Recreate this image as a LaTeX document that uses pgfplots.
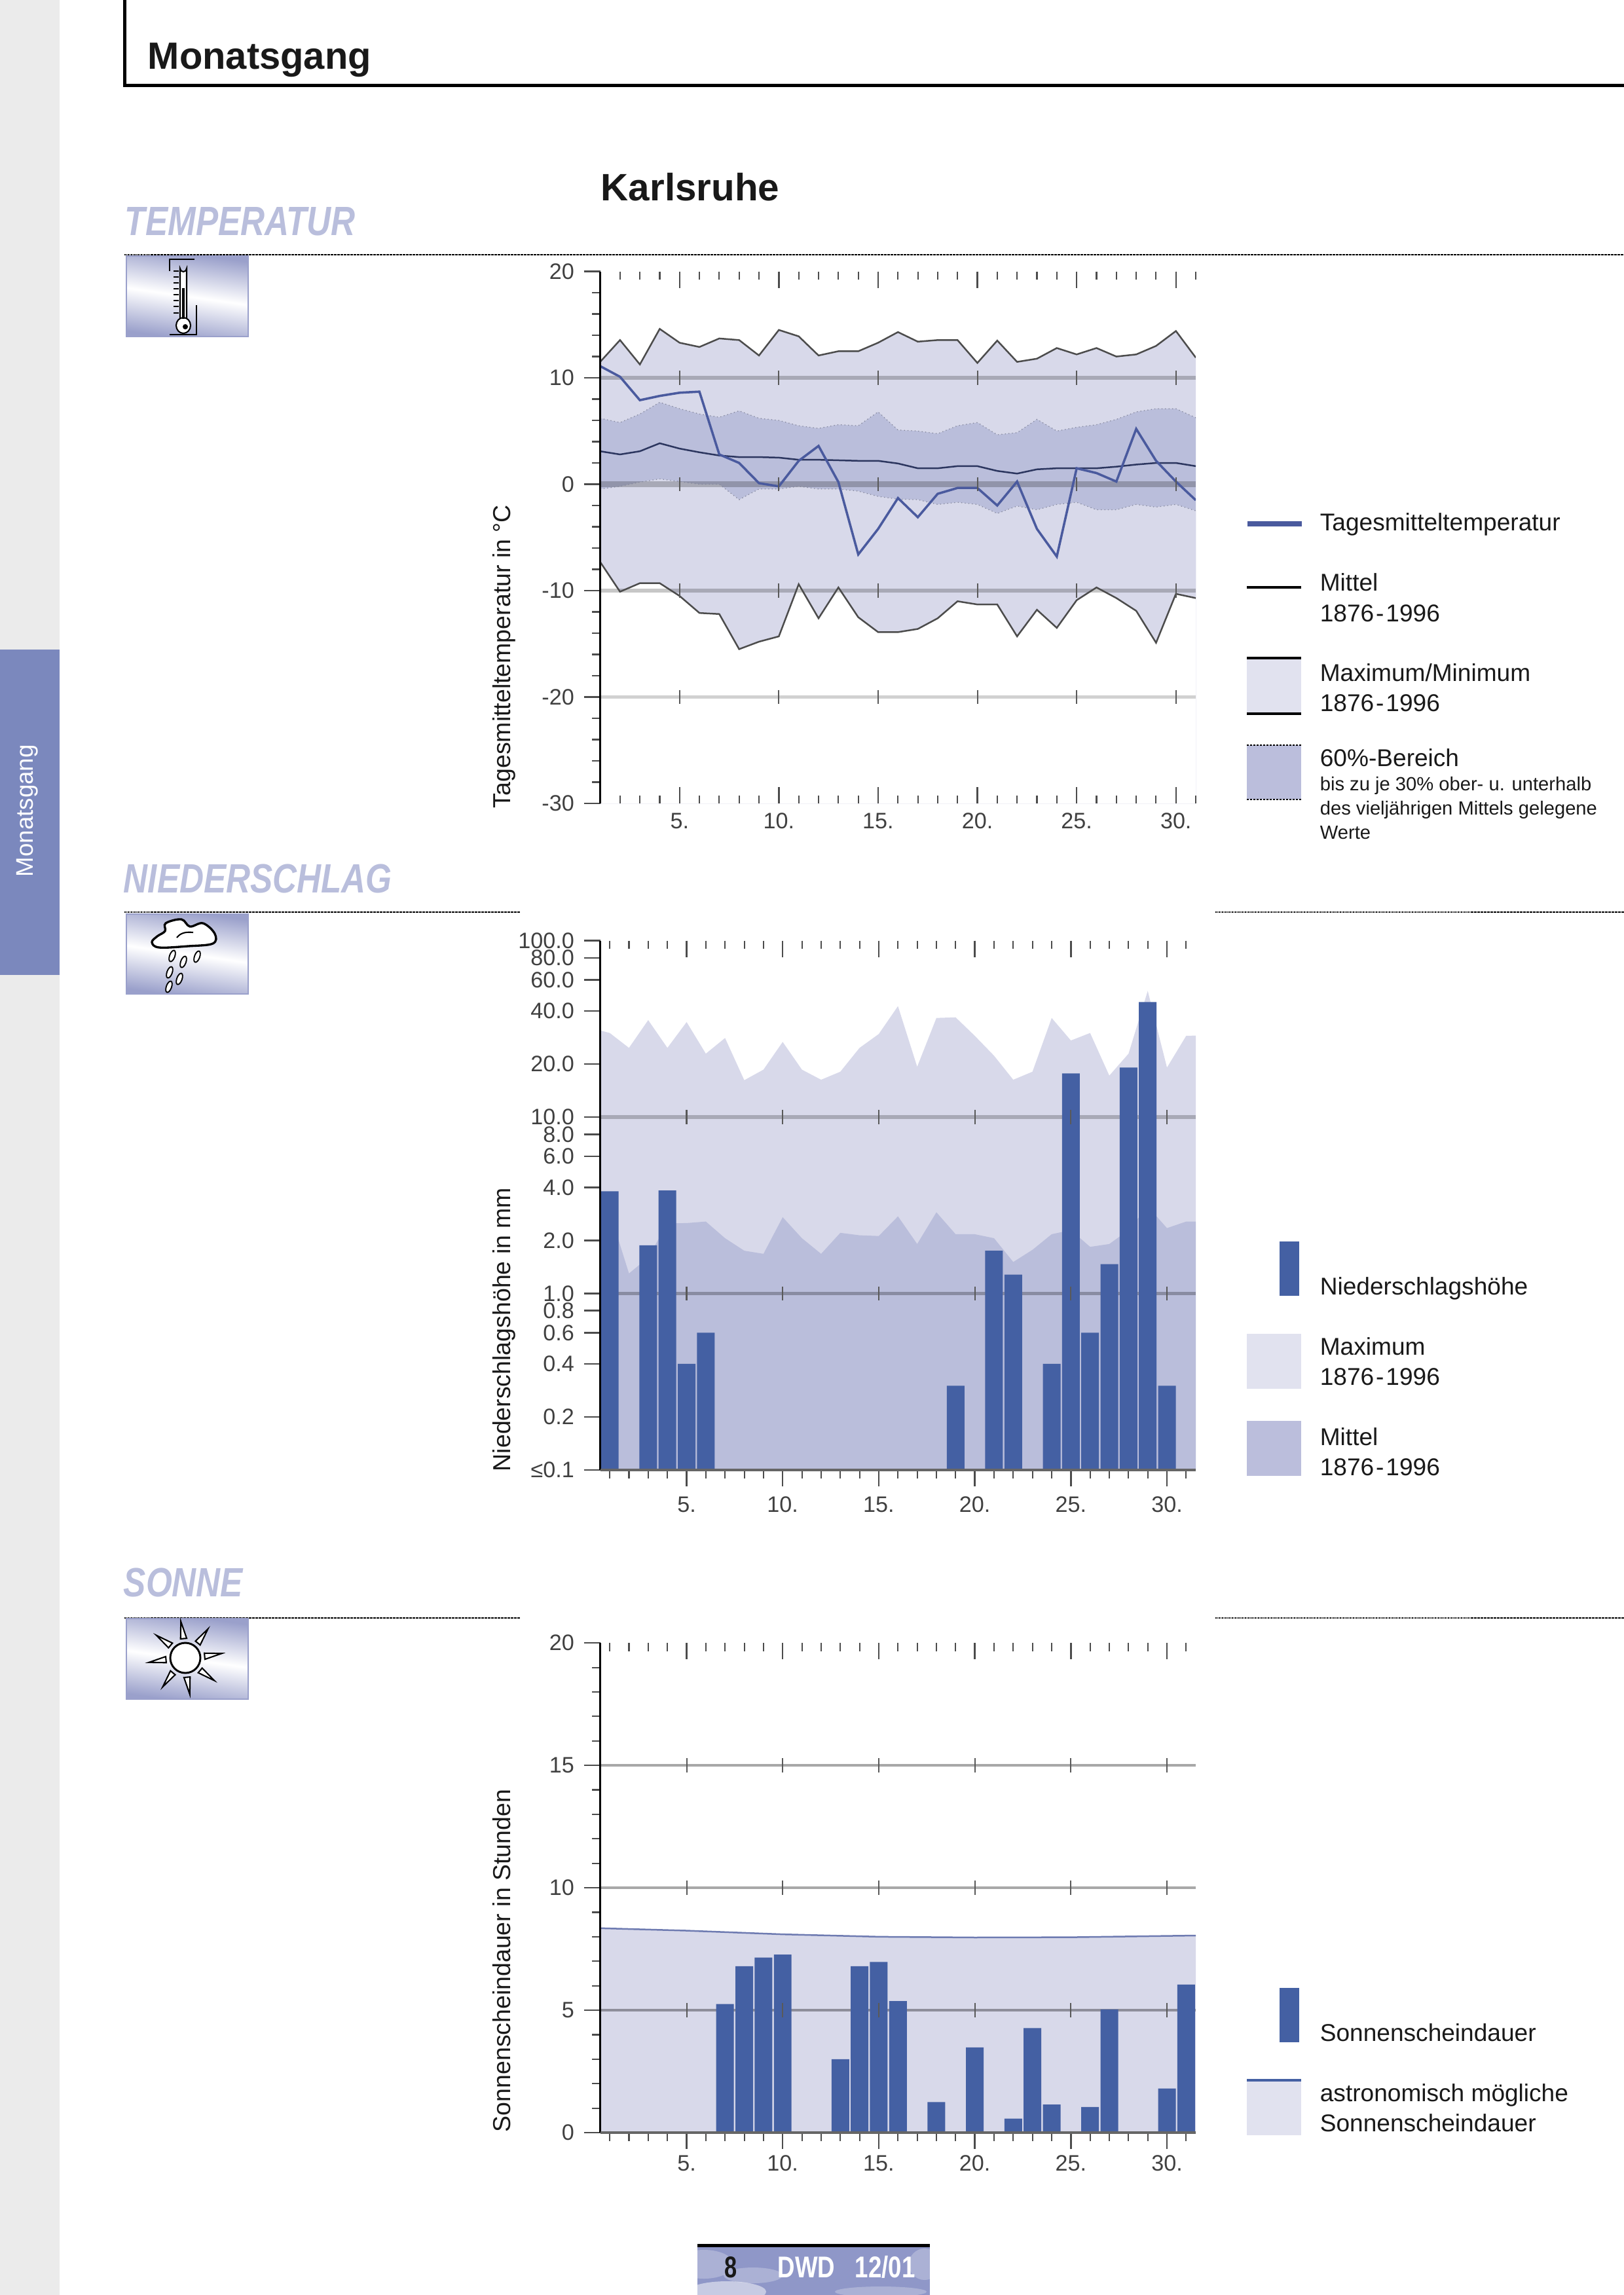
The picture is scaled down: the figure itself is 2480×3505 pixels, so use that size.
\documentclass[border=0pt]{standalone}
\usepackage{fontspec}
\setmainfont{Liberation Sans}
\usepackage{graphicx}
\usepackage{pgfplots}
\usepackage{pgfplotstable}
\pgfplotsset{compat=1.18}

\definecolor{maxfill}{HTML}{D8D9EA}
\definecolor{meanfill}{HTML}{BABEDB}
\definecolor{legmax}{HTML}{E1E2EF}
\definecolor{legmean}{HTML}{BBBEDC}
\definecolor{barblue}{HTML}{4460A3}
\definecolor{linblue}{HTML}{4A5A9E}
\definecolor{sectblue}{HTML}{B9BEDC}
\definecolor{tabblue}{HTML}{7B88BD}
\definecolor{sidegray}{HTML}{EBEBEB}
\definecolor{iconblue}{HTML}{9AA0CB}
\definecolor{footblue}{HTML}{8F97C8}

% day, max, min, mean 1876-1996, 60% upper and lower edge, daily mean 12/2001
\pgfplotstableread{
day max   min   mean o60  u60   tag
1   11.5  -7.3  3.1  6.2  -0.45 11.1
2   13.55 -10.1 2.8  5.8  -0.2  10.1
3   11.26 -9.3  3.1  6.6  0.2   7.9
4   14.6  -9.3  3.85 7.7  0.5   8.3
5   13.3  -10.5 3.35 7.1  0.25  8.6
6   12.9  -12.1 3.0  6.6  0.0   8.7
7   13.7  -12.2 2.7  6.3  0.0   2.8
8   13.55 -15.5 2.55 6.9  -1.45 2.0
9   12.1  -14.8 2.55 6.2  -0.45 0.1
10  14.5  -14.3 2.5  6.0  -0.45 -0.2
11  13.9  -9.4  2.3  5.5  -0.2  2.2
12  12.1  -12.6 2.3  5.25 -0.45 3.6
13  12.5  -9.7  2.25 5.6  -0.45 0.2
14  12.5  -12.5 2.2  5.5  -0.65 -6.6
15  13.3  -13.9 2.2  6.8  -1.15 -4.2
16  14.3  -13.9 1.95 5.1  -1.4  -1.3
17  13.4  -13.6 1.5  5.0  -1.45 -3.1
18  13.55 -12.6 1.5  4.75 -1.9  -0.9
19  13.55 -11.0 1.7  5.5  -1.7  -0.35
20  11.4  -11.3 1.7  5.8  -1.9  -0.35
21  13.5  -11.3 1.25 4.65 -2.75 -2.0
22  11.5  -14.3 1.0  4.85 -2.05 0.25
23  11.8  -11.8 1.4  6.1  -2.4  -4.2
24  12.8  -13.5 1.5  5.0  -1.9  -6.8
25  12.2  -10.9 1.5  5.35 -1.7  1.5
26  12.8  -9.7  1.5  5.6  -2.4  1.05
27  12.0  -10.7 1.65 6.1  -2.4  0.25
28  12.2  -11.9 1.85 6.8  -1.9  5.2
29  13.0  -14.9 2.0  7.1  -2.15 2.2
30  14.4  -10.3 2.0  7.1  -1.9  0.25
31  11.9  -10.7 1.7  6.25 -2.5  -1.5
}\tabTemp

\pgfplotstableread{
day  max  mean
0.5  31   2.9
1    30   2.9
2    24.7 1.3
3    35.5 1.6
4    24.7 2.5
5    34.6 2.51
6    22.9 2.56
7    28.1 2.06
8    16.2 1.75
9    18.6 1.68
10   26.7 2.71
11   18.6 2.06
12   16.3 1.68
13   18.1 2.21
14   24.7 2.14
15   29.6 2.12
16   42.6 2.74
17   19.3 1.91
18   36.5 2.89
19   36.8 2.17
20   28.9 2.17
21   22.3 2.06
22   16.3 1.51
23   18.1 1.77
24   36.5 2.17
25   27.2 2.29
26   30   1.84
27   17.2 1.91
28   22.9 2.29
29   52   3.12
30   19.1 2.35
31   28.9 2.56
31.5 29   2.56
}\tabRainArea

\pgfplotstableread{
day val
1   3.8
3   1.88
4   3.84
5   0.4
6   0.6
19  0.3
21  1.75
22  1.28
24  0.4
25  17.7
26  0.6
27  1.47
28  19.1
29  44.9
30  0.3
}\tabRain

\pgfplotstableread{
day val
7   5.25
8   6.8
9   7.15
10  7.27
13  3.0
14  6.8
15  6.97
16  5.37
18  1.25
20  3.48
22  0.57
23  4.27
24  1.15
26  1.05
27  5.03
30  1.8
31  6.05
}\tabSun

\pgfplotstableread{
day astro
0.5  8.35
5    8.25
10   8.10
15   8.00
20   7.97
25   7.98
31.5 8.05
}\tabAstro

\pgfplotsset{
  dwd/.style={
    scale only axis, width=218.3pt,
    xtick={5,10,15,20,25,30},
    major tick length=6pt, minor tick length=3pt,
    major tick style={draw=black!70,line width=0.6pt},
    minor tick style={draw=black!70,line width=0.5pt},
    tick label style={font=\fontsize{8.2pt}{9pt}\selectfont,text=black!75},
  },
  dwdmain/.style={
    dwd,
    axis y line=left, axis x line=bottom,
    tick align=outside,
    y axis line style={-,draw=black,line width=0.9pt},
    xticklabels={5.,10.,15.,20.,25.,30.},
  },
  dwdticks/.style={
    dwd, axis line style={draw=none}, clip=false,
    ytick=\empty, xticklabels={}, tick align=inside,
    ymin=0, ymax=1, minor xtick={1,2,...,31},
  },
  gridl/.style={draw=black,opacity=0.22,line width=#1},
  cross/.style={only marks,mark=|,mark size=2.6pt,mark options={draw=black!65,line width=0.5pt}},
}

\newcommand\Leg[3]{\node[anchor=base west,inner sep=0pt,text=black!90,font=\fontsize{8.9pt}{10pt}\selectfont] at (#1,#2) {#3};}
\newcommand\Small[3]{\node[anchor=base west,inner sep=0pt,text=black!90,font=\fontsize{7pt}{8pt}\selectfont] at (#1,#2) {#3};}
\newcommand\Ylab[2]{\node[rotate=90,anchor=base west,inner sep=0pt,text=black!90,font=\fontsize{9pt}{11pt}\selectfont] at (779,#1) {#2};}
\newcommand\Sect[3]{\node[anchor=base west,inner sep=0pt,text=sectblue,font=\fontsize{15pt}{16pt}\selectfont\bfseries\itshape] at (#1,#2) {\scalebox{0.82}[1]{#3}};}
\newcommand\Icon[2]{%
  \shade[top color=iconblue,bottom color=iconblue,middle color=white,shading angle=172] (193,#1) rectangle (379,#2);
  \draw[iconblue,line width=0.3pt] (193,#1) rectangle (379,#2);}
\newcommand\Drop[2]{\draw[fill=white,line width=0.45pt,rotate around={-20:(#1,#2)}] (#1,#2) ellipse (4 and 9);}
\newcommand\Years{1876\kern0.7pt-\kern0.7pt1996}

\begin{document}
\begin{tikzpicture}
\begin{scope}[x=0.24pt,y=-0.24pt]
\path[use as bounding box] (0,0) rectangle (2480,3505);
% page furniture
\fill[sidegray] (0,0) rectangle (91,3505);
\fill[tabblue] (0,992) rectangle (91,1489);
\node[rotate=90,anchor=base west,inner sep=0pt,text=white,font=\fontsize{8.8pt}{10pt}\selectfont] at (50,1340) {Monatsgang};
\draw[black,line width=1.2pt] (190,0) -- (190,130) -- (2480,130);
\node[anchor=base west,inner sep=0pt,text=black!90,font=\fontsize{13.9pt}{15pt}\selectfont\bfseries] at (225,105) {Monatsgang};
\node[anchor=base west,inner sep=0pt,text=black!90,font=\fontsize{14pt}{15pt}\selectfont\bfseries] at (917,306) {Karlsruhe};
\Sect{190}{359}{TEMPERATUR}
\Sect{188}{1363}{NIEDERSCHLAG}
\Sect{188}{2438}{SONNE}
\draw[line width=0.7pt,dash pattern=on 0.4pt off 0.2pt] (190,389) -- (2480,389);
\draw[line width=0.7pt,dash pattern=on 0.4pt off 0.2pt] (190,1393) -- (794,1393) (1856,1393) -- (2480,1393);
\draw[line width=0.7pt,dash pattern=on 0.4pt off 0.2pt] (190,2471) -- (794,2471) (1856,2471) -- (2480,2471);
\Ylab{1235}{Tagesmitteltemperatur in °C}
\Ylab{2248}{Niederschlagshöhe in mm}
\Ylab{3257}{Sonnenscheindauer in Stunden}
% thermometer icon
\Icon{391}{514}
\draw[line width=0.6pt] (297,396) -- (259,396) -- (259,414);
\draw[line width=0.6pt] (300,466) -- (300,511) -- (259,511);
\foreach \t in {414,423,432,441,450,459,468,478} \draw[line width=0.5pt] (265,\t) -- (273,\t);
\draw[fill=white,line width=0.5pt] (275,487) -- (275,410) arc[start angle=180,end angle=0,radius=5] -- (285,487);
\draw[fill=white,line width=0.5pt] (280,497) ellipse (11 and 12);
\draw[line width=0.9pt] (280,440) -- (280,487);
\fill (283,499) circle (4);
% cloud icon
\Icon{1396}{1518}
\draw[fill=white,line width=0.8pt] plot[smooth cycle,tension=0.6] coordinates {(232,1439) (240,1430) (252,1422) (253,1410) (277,1404) (290,1415) (310,1410) (328,1426) (325,1441) (287,1445) (243,1447)};
\draw[line width=0.5pt] (270,1432) .. controls (276,1424) and (285,1423) .. (295,1424);
\Drop{263}{1460}\Drop{280}{1469}\Drop{301}{1461}\Drop{259}{1485}\Drop{274}{1495}\Drop{258}{1507}
% sun icon
\Icon{2472}{2595}
\foreach \a in {5,50,95,140,185,230,275,320} {
  \draw[fill=white,line width=0.5pt] ({283+30*cos(\a-9)},{2532-30*sin(\a-9)}) -- ({283+30*cos(\a+9)},{2532-30*sin(\a+9)}) -- ({283+56*cos(\a+2)},{2532-56*sin(\a+2)}) -- cycle;
}
\draw[fill=white,line width=0.7pt] (283,2532) circle (23);
% legend temperature
\draw[linblue,line width=1.7pt] (1905,800) -- (1988,800);
\Leg{2015}{810}{Tagesmitteltemperatur}
\draw[black,line width=1pt] (1904,897) -- (1987,897);
\Leg{2015}{902}{Mittel}
\Leg{2015}{949}{\Years}
\fill[legmax] (1904,1005) rectangle (1987,1090);
\draw[black,line width=1pt] (1904,1005) -- (1987,1005) (1904,1090) -- (1987,1090);
\Leg{2015}{1040}{Maximum/Minimum}
\Leg{2015}{1086}{\Years}
\fill[legmean] (1904,1138) rectangle (1987,1221);
\draw[black,line width=0.7pt,dash pattern=on 0.6pt off 0.6pt] (1904,1138) -- (1987,1138) (1904,1221) -- (1987,1221);
\Leg{2015}{1170}{60\%-Bereich}
\Small{2015}{1207}{bis zu je 30\% ober- u. unterhalb}
\Small{2015}{1244}{des vieljährigen Mittels gelegene}
\Small{2015}{1281}{Werte}
% legend precipitation
\fill[barblue] (1954,1896) rectangle (1984,1979);
\Leg{2015}{1977}{Niederschlagshöhe}
\fill[legmax] (1904,2037) rectangle (1987,2121);
\Leg{2015}{2069}{Maximum}
\Leg{2015}{2115}{\Years}
\fill[legmean] (1904,2170) rectangle (1987,2254);
\Leg{2015}{2207}{Mittel}
\Leg{2015}{2253}{\Years}
% legend sunshine
\fill[barblue] (1954,3036) rectangle (1984,3119);
\Leg{2015}{3117}{Sonnenscheindauer}
\fill[legmax] (1904,3175) rectangle (1987,3261);
\draw[barblue,line width=1pt] (1904,3177) -- (1987,3177);
\Leg{2015}{3209}{astronomisch mögliche}
\Leg{2015}{3255}{Sonnenscheindauer}
% footer
\begin{scope}
\clip (1065,3432) rectangle (1420,3505);
\fill[footblue] (1065,3432) rectangle (1420,3505);
\fill[white,opacity=0.25] (1075,3458) ellipse (45 and 22);
\fill[white,opacity=0.25] (1150,3475) ellipse (45 and 12);
\fill[white,opacity=0.5] (1110,3500) ellipse (60 and 16);
\fill[white,opacity=0.25] (1412,3458) ellipse (24 and 24);
\fill[white,opacity=0.25] (1345,3500) ellipse (70 and 8);
\end{scope}
\fill[black] (1065,3427) rectangle (1420,3432);
\node[anchor=base west,inner sep=0pt,text=black!90,font=\fontsize{11pt}{12pt}\selectfont\bfseries] at (1106,3478) {\scalebox{0.75}[1]{8}};
\node[anchor=base west,inner sep=0pt,text=white,font=\fontsize{11pt}{12pt}\selectfont\bfseries] at (1187,3478) {\scalebox{0.8}[1]{DWD}};
\node[anchor=base west,inner sep=0pt,text=white,font=\fontsize{11pt}{12pt}\selectfont\bfseries] at (1305,3478) {\scalebox{0.8}[1]{12/01}};
\coordinate (A1) at (916.5,1227);
\coordinate (A2) at (916.5,2245);
\coordinate (A3) at (916.5,3257);
\end{scope}

% temperature
\begin{axis}[dwdmain, at={(A1)}, anchor=south west, height=195pt,
  xmin=1, xmax=31, ymin=-30, ymax=20,
  axis x line=none, xtick=\empty,
  ytick={-30,-20,-10,0,10,20}, yticklabels={-30,-20,-10,0,10,20},
  minor ytick={-28,-26,...,18}]
\addplot[fill=maxfill,draw=none] table[x=day,y=max] {\tabTemp} -- (axis cs:31,-30) -- (axis cs:1,-30) -- cycle;
\addplot[fill=meanfill,draw=none] table[x=day,y=o60] {\tabTemp} -- (axis cs:31,-30) -- (axis cs:1,-30) -- cycle;
\addplot[fill=maxfill,draw=none] table[x=day,y=u60] {\tabTemp} -- (axis cs:31,-30) -- (axis cs:1,-30) -- cycle;
\addplot[fill=white,draw=none] table[x=day,y=min] {\tabTemp} -- (axis cs:31,-30) -- (axis cs:1,-30) -- cycle;
\addplot[gridl=1.6pt] coordinates {(1,10) (31,10)};
\addplot[gridl=2.3pt] coordinates {(1,0) (31,0)};
\addplot[gridl=1.6pt] coordinates {(1,-10) (31,-10)};
\addplot[gridl=1.4pt,opacity=0.18] coordinates {(1,-20) (31,-20)};
\addplot[cross] coordinates {(5,10) (10,10) (15,10) (20,10) (25,10) (30,10)
  (5,0) (10,0) (15,0) (20,0) (25,0) (30,0)
  (5,-10) (10,-10) (15,-10) (20,-10) (25,-10) (30,-10)
  (5,-20) (10,-20) (15,-20) (20,-20) (25,-20) (30,-20)};
\addplot[draw=meanfill!70!black,line width=0.3pt,densely dotted] table[x=day,y=o60] {\tabTemp};
\addplot[draw=meanfill!70!black,line width=0.3pt,densely dotted] table[x=day,y=u60] {\tabTemp};
\addplot[draw=black!70,line width=0.6pt] table[x=day,y=max] {\tabTemp};
\addplot[draw=black!70,line width=0.6pt] table[x=day,y=min] {\tabTemp};
\addplot[draw=linblue!60!black,line width=0.6pt] table[x=day,y=mean] {\tabTemp};
\addplot[draw=linblue,line width=0.85pt] table[x=day,y=tag] {\tabTemp};
\end{axis}
\begin{axis}[dwdticks, at={(A1)}, anchor=south west, height=195pt,
  xmin=1, xmax=31, xtick pos=both, xticklabels={5.,10.,15.,20.,25.,30.}]
\addplot[black,line width=0.9pt] coordinates {(1,0) (1,1)};
\end{axis}

% precipitation
\begin{axis}[dwdmain, at={(A2)}, anchor=south west, height=194pt,
  xmin=0.5, xmax=31.5, ymode=log, ymin=0.1, ymax=100, log origin=infty,
  x axis line style={-,draw=black!60,line width=1.1pt},
  minor xtick={1,2,...,31},
  xticklabel style={yshift=-0.2pt},
  ytick={0.1,0.2,0.4,0.6,0.8,1,2,4,6,8,10,20,40,60,80,100},
  yticklabels={≤0.1,0.2,0.4,0.6,0.8,1.0,2.0,4.0,6.0,8.0,10.0,20.0,40.0,60.0,80.0,100.0}]
\addplot[fill=maxfill,draw=none] table[x=day,y=max] {\tabRainArea} -- (axis cs:31.5,0.1) -- (axis cs:0.5,0.1) -- cycle;
\addplot[fill=meanfill,draw=none] table[x=day,y=mean] {\tabRainArea} -- (axis cs:31.5,0.1) -- (axis cs:0.5,0.1) -- cycle;
\addplot[gridl=1.6pt] coordinates {(0.5,10) (31.5,10)};
\addplot[gridl=1.2pt,opacity=0.26] coordinates {(0.5,1) (31.5,1)};
\addplot[cross] coordinates {(5,10) (10,10) (15,10) (20,10) (25,10) (30,10)
  (5,1) (10,1) (15,1) (20,1) (25,1) (30,1)};
\addplot[ybar,bar width=0.92,fill=barblue,draw=none] table[x=day,y=val] {\tabRain};
\end{axis}
\begin{axis}[dwdticks, at={(A2)}, anchor=south west, height=194pt,
  xmin=0.5, xmax=31.5, xtick pos=top]
\addplot[black,line width=0.9pt] coordinates {(0.5,0) (0.5,1)};
\addplot[black!60,line width=1.1pt] coordinates {(0.5,0) (31.5,0)};
\end{axis}

% sunshine
\begin{axis}[dwdmain, at={(A3)}, anchor=south west, height=179.5pt,
  xmin=0.5, xmax=31.5, ymin=0, ymax=20,
  x axis line style={-,draw=black!60,line width=1.1pt},
  minor xtick={1,2,...,31},
  xticklabel style={yshift=1.2pt},
  ytick={0,5,10,15,20}, yticklabels={0,5,10,15,20},
  minor ytick={1,2,...,19}]
\addplot[fill=maxfill,draw=none] table[x=day,y=astro] {\tabAstro} -- (axis cs:31.5,0) -- (axis cs:0.5,0) -- cycle;
\addplot[draw=linblue!80,line width=0.6pt] table[x=day,y=astro] {\tabAstro};
\addplot[gridl=0.8pt,opacity=0.34] coordinates {(0.5,5) (31.5,5)};
\addplot[gridl=0.8pt,opacity=0.34] coordinates {(0.5,10) (31.5,10)};
\addplot[gridl=0.8pt,opacity=0.34] coordinates {(0.5,15) (31.5,15)};
\addplot[cross] coordinates {(5,5) (10,5) (15,5) (20,5) (25,5) (30,5)
  (5,10) (10,10) (15,10) (20,10) (25,10) (30,10)
  (5,15) (10,15) (15,15) (20,15) (25,15) (30,15)};
\addplot[ybar,bar width=0.92,fill=barblue,draw=none] table[x=day,y=val] {\tabSun};
\end{axis}
\begin{axis}[dwdticks, at={(A3)}, anchor=south west, height=179.5pt,
  xmin=0.5, xmax=31.5, xtick pos=top]
\addplot[black,line width=0.9pt] coordinates {(0.5,0) (0.5,1)};
\addplot[black!60,line width=1.1pt] coordinates {(0.5,0) (31.5,0)};
\end{axis}
\end{tikzpicture}
\end{document}
